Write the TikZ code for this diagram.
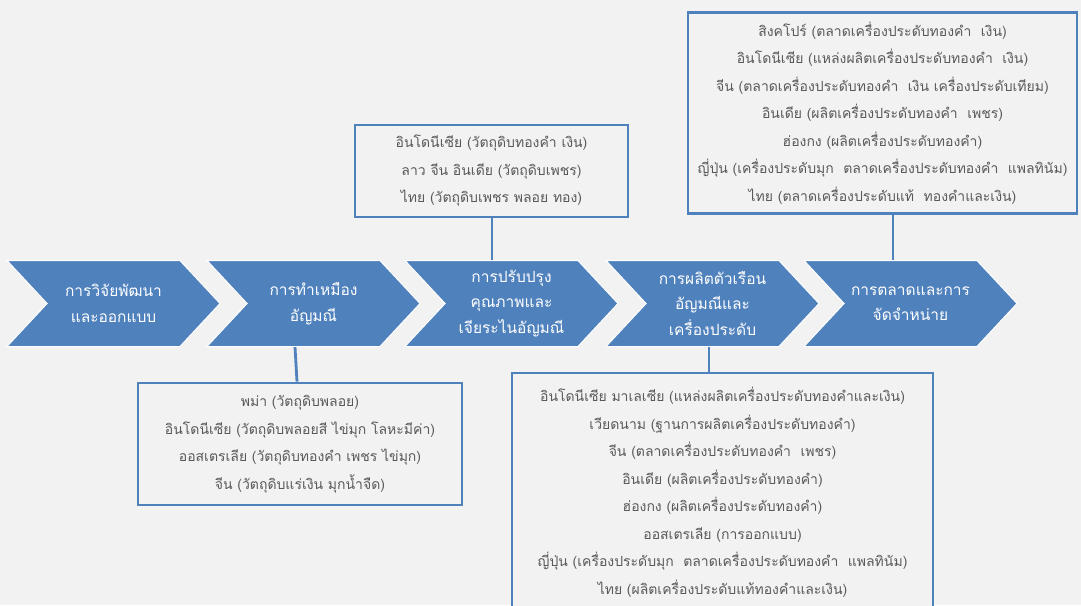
\documentclass[tikz,border=0pt]{standalone}
\usepackage{fontspec}
\usetikzlibrary{shapes.symbols}
\newfontfamily\thaifont[Script=Thai]{Loma}

\definecolor{stageblue}{HTML}{4F81BD}
\definecolor{bggray}{HTML}{F2F2F2}
\definecolor{textgray}{HTML}{595959}

\tikzset{
  stage/.style={signal, signal from=west, signal to=east, signal pointer angle=94,
    fill=stageblue, draw=white, line width=1pt, minimum width=213pt, minimum height=86pt,
    inner sep=0pt, text=white, align=center, font=\thaifont\fontsize{15.5}{25.5}\selectfont},
  infobox/.style={draw=stageblue, line width=2.8pt, fill=bggray, inner sep=0pt,
    text=textgray, align=center, font=\thaifont\fontsize{14}{27.5}\selectfont},
  link/.style={draw=stageblue, line width=2.8pt}
}

\begin{document}
\begin{tikzpicture}[x=1pt,y=-1pt]
  \path[use as bounding box, fill=bggray] (0,0) rectangle (1081,605);
  \clip (0,0) rectangle (1081,605);

  % value chain stages
  \node[stage] (c1) at (113.5,303.5) {การวิจัยพัฒนา\\และออกแบบ};
  \node[stage] (c2) at (313.5,303.5) {การทำเหมือง\\อัญมณี};
  \node[stage] (c3) at (511.5,303.5) {การปรับปรุง\\คุณภาพและ\\เจียระไนอัญมณี};
  \node[stage] (c4) at (712.5,303.5) {การผลิตตัวเรือน\\อัญมณีและ\\เครื่องประดับ};
  \node[stage] (c5) at (910.5,303.5) {การตลาดและการ\\จัดจำหน่าย};

  % countries for each stage
  \node[infobox, minimum width=273pt, minimum height=92pt] (b3) at (491.5,171)
    {อินโดนีเซีย (วัตถุดิบทองคำ เงิน)\\ลาว จีน อินเดีย (วัตถุดิบเพชร)\\ไทย (วัตถุดิบเพชร พลอย ทอง)};
  \node[infobox, minimum width=389pt, minimum height=201pt] (b5) at (882.5,113)
    {สิงคโปร์ (ตลาดเครื่องประดับทองคำ~ เงิน)\\
     อินโดนีเซีย (แหล่งผลิตเครื่องประดับทองคำ~ เงิน)\\
     จีน (ตลาดเครื่องประดับทองคำ~ เงิน เครื่องประดับเทียม)\\
     อินเดีย (ผลิตเครื่องประดับทองคำ~ เพชร)\\
     ฮ่องกง (ผลิตเครื่องประดับทองคำ)\\
     ญี่ปุ่น (เครื่องประดับมุก~ ตลาดเครื่องประดับทองคำ~ แพลทินัม)\\
     ไทย (ตลาดเครื่องประดับแท้~ ทองคำและเงิน)};
  \node[infobox, minimum width=324pt, minimum height=122pt] (b2) at (300,444)
    {พม่า (วัตถุดิบพลอย)\\
     อินโดนีเซีย (วัตถุดิบพลอยสี ไข่มุก โลหะมีค่า)\\
     ออสเตรเลีย (วัตถุดิบทองคำ เพชร ไข่มุก)\\
     จีน (วัตถุดิบแร่เงิน มุกน้ำจืด)};
  \node[infobox, minimum width=421pt, minimum height=239pt] (b4) at (722.5,492.5)
    {อินโดนีเซีย มาเลเซีย (แหล่งผลิตเครื่องประดับทองคำและเงิน)\\
     เวียดนาม (ฐานการผลิตเครื่องประดับทองคำ)\\
     จีน (ตลาดเครื่องประดับทองคำ~ เพชร)\\
     อินเดีย (ผลิตเครื่องประดับทองคำ)\\
     ฮ่องกง (ผลิตเครื่องประดับทองคำ)\\
     ออสเตรเลีย (การออกแบบ)\\
     ญี่ปุ่น (เครื่องประดับมุก~ ตลาดเครื่องประดับทองคำ~ แพลทินัม)\\
     ไทย (ผลิตเครื่องประดับแท้ทองคำและเงิน)};

  % connectors
  \draw[link] (b3.south -| 492,0) -- (c3.north -| 492,0);
  \draw[link] (b5.south -| 893,0) -- (c5.north -| 893,0);
  \draw[link] (c2.south -| 295,0) -- (b2.north -| 297,0);
  \draw[link] (c4.south -| 709,0) -- (b4.north -| 709,0);
\end{tikzpicture}
\end{document}
